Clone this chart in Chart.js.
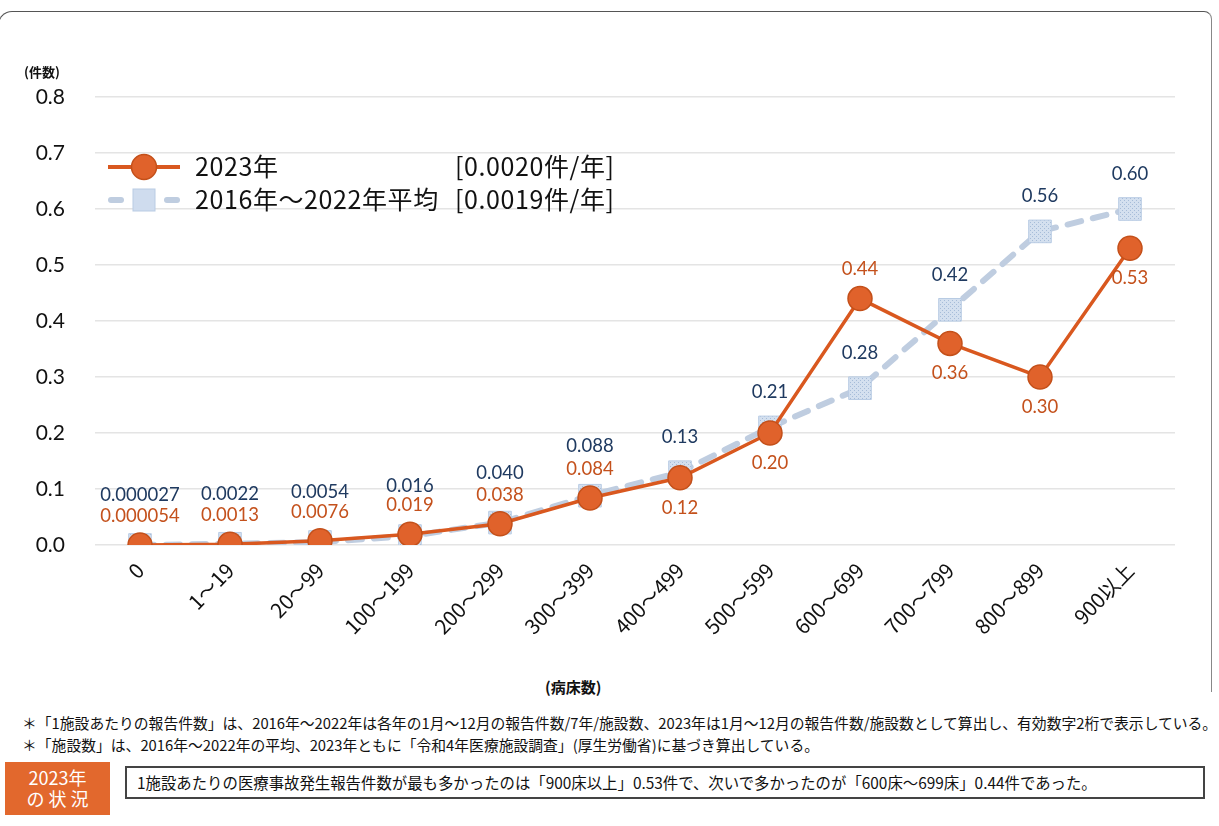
<!DOCTYPE html>
<html lang="ja">
<head>
<meta charset="utf-8">
<script src="https://cdn.jsdelivr.net/npm/chart.js@4.4.1/dist/chart.umd.min.js"></script>
<style>
    body { margin: 0; background: #fff; font-family: "Noto Sans CJK JP", sans-serif; }
    #wrap { position: relative; width: 1219px; height: 826px; overflow: hidden; }
    #marco { position: absolute; left: -2px; top: 11px; width: 1212px; height: 680px; border-top: 1.5px solid #555; border-right: 1.5px solid #888; border-left: 1.5px solid #555; border-top-left-radius: 14px; border-top-right-radius: 8px; }
    canvas { position: absolute; left: 0; top: 0; }
    .txt { position: absolute; white-space: nowrap; color: #111; }
    .leyenda { position: absolute; left: 105px; font-family: "Noto Sans CJK JP", sans-serif; font-size: 25px; color: #111; height: 30px; line-height: 30px; }
    .leyenda svg { position: absolute; left: 0; top: 0; }
    .leyenda span { position: absolute; top: -1px; white-space: nowrap; letter-spacing: 0.6px; }
</style>
</head>
<body>
<div id="wrap">
    <div id="marco"></div>
    <canvas id="lineChart" width="1219" height="660"></canvas>
    <div class="txt" style="left:24px;top:62px;font-size:13px;font-weight:bold;">(件数)</div>

    <div class="leyenda" style="top:151px;">
        <svg width="80" height="30"><line x1="3" y1="16" x2="75" y2="16" stroke="#d9581f" stroke-width="4"/><circle cx="39" cy="16" r="12.5" fill="#e0622b" stroke="#c4501a" stroke-width="1.5"/></svg>
        <span style="left:90px;">2023年</span>
        <span style="left:350px;">[0.0020件/年]</span>
    </div>
    <div class="leyenda" style="top:184px;">
        <svg width="80" height="30"><line x1="6" y1="16" x2="16" y2="16" stroke="#bfcde0" stroke-width="6" stroke-linecap="round"/><line x1="62" y1="16" x2="72" y2="16" stroke="#bfcde0" stroke-width="6" stroke-linecap="round"/><rect x="28" y="5" width="22" height="22" fill="#cfdcee" stroke="#b9cce4"/></svg>
        <span style="left:90px;">2016年～2022年平均</span>
        <span style="left:350px;">[0.0019件/年]</span>
    </div>

    <div class="txt" style="left:545px;top:676px;font-size:15px;font-weight:bold;">(病床数)</div>

    <div class="txt" style="left:22px;top:712px;font-size:14.8px;">＊「1施設あたりの報告件数」は、2016年～2022年は各年の1月～12月の報告件数/7年/施設数、2023年は1月～12月の報告件数/施設数として算出し、有効数字2桁で表示している。</div>
    <div class="txt" style="left:22px;top:734px;font-size:14.8px;">＊「施設数」は、2016年～2022年の平均、2023年ともに「令和4年医療施設調査」(厚生労働省)に基づき算出している。</div>

    <div style="position:absolute;left:5px;top:762px;width:105px;height:53px;background:#e2682d;color:#fff;font-size:18px;line-height:21px;text-align:center;padding-top:5px;box-sizing:border-box;">2023年<br>の 状 況</div>
    <div style="position:absolute;left:125px;top:766px;width:1080px;height:33px;border:2px solid #444;box-sizing:border-box;"></div>
    <div class="txt" style="left:137px;top:771px;font-size:15.4px;">1施設あたりの医療事故発生報告件数が最も多かったのは「900床以上」0.53件で、次いで多かったのが「600床～699床」0.44件であった。</div>
</div>

<script>
// datos del gráfico
const categorias = ["0", "1～19", "20～99", "100～199", "200～299", "300～399", "400～499", "500～599", "600～699", "700～799", "800～899", "900以上"];
const valores2023 = [0.000054, 0.0013, 0.0076, 0.019, 0.038, 0.084, 0.12, 0.20, 0.44, 0.36, 0.30, 0.53];
const valoresPromedio = [0.000027, 0.0022, 0.0054, 0.016, 0.040, 0.088, 0.13, 0.21, 0.28, 0.42, 0.56, 0.60];
const etiquetas2023 = ["0.000054", "0.0013", "0.0076", "0.019", "0.038", "0.084", "0.12", "0.20", "0.44", "0.36", "0.30", "0.53"];
const etiquetasPromedio = ["0.000027", "0.0022", "0.0054", "0.016", "0.040", "0.088", "0.13", "0.21", "0.28", "0.42", "0.56", "0.60"];
const ticksY = [0, 0.1, 0.2, 0.3, 0.4, 0.5, 0.6, 0.7, 0.8];

// dónde va cada etiqueta: "s" = apilada bajo la azul, "a" = arriba, "b" = abajo
const posicion2023 = ["s", "s", "s", "s", "s", "s", "b", "b", "a", "b", "b", "b"];

// patrón punteado para los cuadrados del promedio
function crearPatron() {
    const c = document.createElement("canvas");
    c.width = 4; c.height = 4;
    const g = c.getContext("2d");
    g.fillStyle = "#d4e0ef";
    g.fillRect(0, 0, 4, 4);
    g.fillStyle = "#a6bcd8";
    g.fillRect(0, 0, 1, 1);
    g.fillRect(2, 2, 1, 1);
    return g.createPattern(c, "repeat");
}

const pluginEtiquetas = {
    id: "etiquetas",
    afterDatasetsDraw(chart) {
        const ctx = chart.ctx;
        ctx.save();
        ctx.font = "18.5px Lato, 'Noto Sans', sans-serif";
        ctx.textAlign = "center";
        ctx.textBaseline = "middle";
        const ptsNaranja = chart.getDatasetMeta(0).data;
        const ptsAzul = chart.getDatasetMeta(1).data;
        ptsAzul.forEach((p, i) => {
            const apilada = posicion2023[i] === "s";
            ctx.fillStyle = "#1f3a60";
            ctx.fillText(etiquetasPromedio[i], p.x, p.y - (apilada ? 50 : 35));
        });
        ptsNaranja.forEach((p, i) => {
            const pos = posicion2023[i];
            let dy = 30;
            if (pos === "s") dy = -29;
            if (pos === "a") dy = -30;
            ctx.fillStyle = "#c4511c";
            ctx.fillText(etiquetas2023[i], p.x, p.y + dy);
        });
        ctx.restore();
    },
};

const ctx = document.getElementById("lineChart").getContext("2d");
const lineChart = new Chart(ctx, {
    type: "line",
    data: {
        labels: categorias,
        datasets: [
            {
                label: "2023年",
                data: valores2023,
                borderColor: "#d9581f",
                borderWidth: 3.5,
                pointRadius: 12,
                pointBackgroundColor: "#e0622b",
                pointBorderColor: "#c4501a",
                pointBorderWidth: 1.5,
                tension: 0,
            },
            {
                label: "2016年～2022年平均",
                data: valoresPromedio,
                borderColor: "#bfcde0",
                borderWidth: 6,
                borderDash: [14, 12],
                borderCapStyle: "round",
                pointStyle: "rect",
                pointRadius: 16,
                pointBackgroundColor: crearPatron(),
                pointBorderColor: "#b9cce4",
                pointBorderWidth: 1,
                tension: 0,
            },
        ],
    },
    options: {
        responsive: false,
        animation: false,
        layout: { padding: { top: 97, right: 44, left: 0, bottom: 0 } },
        plugins: {
            legend: { display: false },
            tooltip: { enabled: false },
        },
        scales: {
            x: {
                offset: true,
                grid: { display: false },
                border: { display: false },
                afterFit: (s) => { s.height = 115; },
                ticks: {
                    minRotation: 46,
                    maxRotation: 46,
                    padding: 5,
                    color: "#111",
                    font: { size: 20.5, family: "'Noto Sans CJK JP', sans-serif" },
                },
            },
            y: {
                min: 0,
                max: 0.8,
                afterFit: (s) => { s.width = 95; },
                afterBuildTicks: (s) => { s.ticks = ticksY.map((v) => ({ value: v })); },
                grid: { color: "#e4e4e4", lineWidth: 1.5, drawTicks: false },
                border: { display: false },
                ticks: {
                    padding: 30,
                    color: "#111",
                    font: { size: 21, family: "Lato, 'Noto Sans', sans-serif" },
                    callback: (v) => v.toFixed(1),
                },
            },
        },
    },
    plugins: [pluginEtiquetas],
});
</script>
</body>
</html>
